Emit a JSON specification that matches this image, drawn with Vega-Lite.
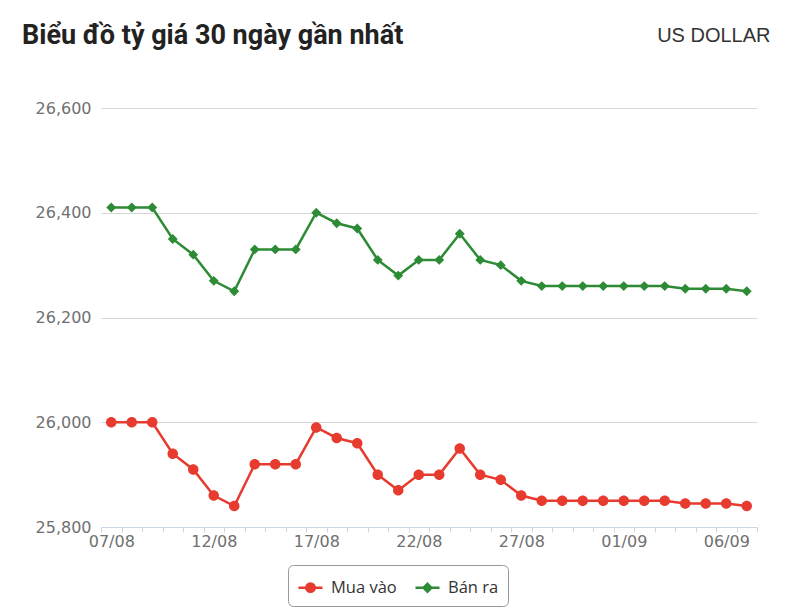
{
  "$schema": "https://vega.github.io/schema/vega-lite/v6.json",
  "width": 656,
  "height": 419,
  "autosize": {"type": "none"},
  "padding": {"left": 101, "top": 108, "right": 43, "bottom": 84},
  "background": "white",
  "title": {
    "text": "Biểu đồ tỷ giá 30 ngày gần nhất",
    "anchor": "start",
    "frame": "group",
    "orient": "top",
    "font": "Roboto",
    "fontSize": 27,
    "fontWeight": "bold",
    "color": "#222222",
    "baseline": "alphabetic",
    "dx": -79,
    "dy": 46,
    "offset": 0
  },
  "config": {
    "view": {"stroke": null},
    "legend": {
      "orient": "none",
      "direction": "horizontal",
      "legendX": 187,
      "legendY": 457,
      "strokeColor": "#999999",
      "fillColor": "white",
      "cornerRadius": 5,
      "padding": 9,
      "columnPadding": 13,
      "symbolSize": 576,
      "symbolStrokeWidth": 2.5,
      "labelFont": "Open Sans",
      "labelFontSize": 16.5,
      "labelColor": "#333333",
      "labelOffset": 7
    }
  },
  "data": {
    "values": [
      {"date": "07/08", "series": "Mua vào", "rate": 26000},
      {"date": "08/08", "series": "Mua vào", "rate": 26000},
      {"date": "09/08", "series": "Mua vào", "rate": 26000},
      {"date": "10/08", "series": "Mua vào", "rate": 25940},
      {"date": "11/08", "series": "Mua vào", "rate": 25910},
      {"date": "12/08", "series": "Mua vào", "rate": 25860},
      {"date": "13/08", "series": "Mua vào", "rate": 25840},
      {"date": "14/08", "series": "Mua vào", "rate": 25920},
      {"date": "15/08", "series": "Mua vào", "rate": 25920},
      {"date": "16/08", "series": "Mua vào", "rate": 25920},
      {"date": "17/08", "series": "Mua vào", "rate": 25990},
      {"date": "18/08", "series": "Mua vào", "rate": 25970},
      {"date": "19/08", "series": "Mua vào", "rate": 25960},
      {"date": "20/08", "series": "Mua vào", "rate": 25900},
      {"date": "21/08", "series": "Mua vào", "rate": 25870},
      {"date": "22/08", "series": "Mua vào", "rate": 25900},
      {"date": "23/08", "series": "Mua vào", "rate": 25900},
      {"date": "24/08", "series": "Mua vào", "rate": 25950},
      {"date": "25/08", "series": "Mua vào", "rate": 25900},
      {"date": "26/08", "series": "Mua vào", "rate": 25890},
      {"date": "27/08", "series": "Mua vào", "rate": 25860},
      {"date": "28/08", "series": "Mua vào", "rate": 25850},
      {"date": "29/08", "series": "Mua vào", "rate": 25850},
      {"date": "30/08", "series": "Mua vào", "rate": 25850},
      {"date": "31/08", "series": "Mua vào", "rate": 25850},
      {"date": "01/09", "series": "Mua vào", "rate": 25850},
      {"date": "02/09", "series": "Mua vào", "rate": 25850},
      {"date": "03/09", "series": "Mua vào", "rate": 25850},
      {"date": "04/09", "series": "Mua vào", "rate": 25845},
      {"date": "05/09", "series": "Mua vào", "rate": 25845},
      {"date": "06/09", "series": "Mua vào", "rate": 25845},
      {"date": "07/09", "series": "Mua vào", "rate": 25840},
      {"date": "07/08", "series": "Bán ra", "rate": 26410},
      {"date": "08/08", "series": "Bán ra", "rate": 26410},
      {"date": "09/08", "series": "Bán ra", "rate": 26410},
      {"date": "10/08", "series": "Bán ra", "rate": 26350},
      {"date": "11/08", "series": "Bán ra", "rate": 26320},
      {"date": "12/08", "series": "Bán ra", "rate": 26270},
      {"date": "13/08", "series": "Bán ra", "rate": 26250},
      {"date": "14/08", "series": "Bán ra", "rate": 26330},
      {"date": "15/08", "series": "Bán ra", "rate": 26330},
      {"date": "16/08", "series": "Bán ra", "rate": 26330},
      {"date": "17/08", "series": "Bán ra", "rate": 26400},
      {"date": "18/08", "series": "Bán ra", "rate": 26380},
      {"date": "19/08", "series": "Bán ra", "rate": 26370},
      {"date": "20/08", "series": "Bán ra", "rate": 26310},
      {"date": "21/08", "series": "Bán ra", "rate": 26280},
      {"date": "22/08", "series": "Bán ra", "rate": 26310},
      {"date": "23/08", "series": "Bán ra", "rate": 26310},
      {"date": "24/08", "series": "Bán ra", "rate": 26360},
      {"date": "25/08", "series": "Bán ra", "rate": 26310},
      {"date": "26/08", "series": "Bán ra", "rate": 26300},
      {"date": "27/08", "series": "Bán ra", "rate": 26270},
      {"date": "28/08", "series": "Bán ra", "rate": 26260},
      {"date": "29/08", "series": "Bán ra", "rate": 26260},
      {"date": "30/08", "series": "Bán ra", "rate": 26260},
      {"date": "31/08", "series": "Bán ra", "rate": 26260},
      {"date": "01/09", "series": "Bán ra", "rate": 26260},
      {"date": "02/09", "series": "Bán ra", "rate": 26260},
      {"date": "03/09", "series": "Bán ra", "rate": 26260},
      {"date": "04/09", "series": "Bán ra", "rate": 26255},
      {"date": "05/09", "series": "Bán ra", "rate": 26255},
      {"date": "06/09", "series": "Bán ra", "rate": 26255},
      {"date": "07/09", "series": "Bán ra", "rate": 26250}
    ]
  },
  "encoding": {
    "x": {
      "field": "date",
      "type": "ordinal",
      "sort": null,
      "bandPosition": 0.5,
      "scale": {"type": "band", "paddingInner": 0, "paddingOuter": 0},
      "axis": {
        "title": null,
        "labelAngle": 0,
        "labelExpr": "indexof(['07/08','12/08','17/08','22/08','27/08','01/09','06/09'], datum.value) >= 0 ? datum.label : ''",
        "labelOverlap": false,
        "labelFlush": false,
        "tickBand": "extent",
        "tickSize": 5,
        "tickColor": "#ccd6eb",
        "domainColor": "#ccd6eb",
        "labelFont": "DejaVu Sans",
        "labelFontSize": 16,
        "labelColor": "#707070",
        "labelPadding": 1,
        "grid": false
      }
    },
    "y": {
      "field": "rate",
      "type": "quantitative",
      "scale": {"domain": [25800, 26600], "nice": false, "zero": false},
      "axis": {
        "title": "US DOLLAR",
        "titleAngle": 0,
        "titleAlign": "right",
        "titleBaseline": "alphabetic",
        "titleX": 669,
        "titleY": -67,
        "titleFont": "Liberation Sans",
        "titleFontSize": 20,
        "titleFontWeight": "normal",
        "titleColor": "#333333",
        "values": [25800, 26000, 26200, 26400, 26600],
        "format": ",.0f",
        "domain": false,
        "ticks": false,
        "labelPadding": 10,
        "labelFont": "DejaVu Sans",
        "labelFontSize": 16,
        "labelColor": "#707070",
        "gridColor": "#d6d6d6",
        "gridWidth": 1
      }
    }
  },
  "layer": [
    {
      "mark": {"type": "line", "strokeWidth": 2.5},
      "encoding": {
        "color": {
          "field": "series",
          "type": "nominal",
          "scale": {"domain": ["Mua vào", "Bán ra"], "range": ["#e63b2e", "#2e8b35"]},
          "legend": {"title": null}
        }
      }
    },
    {
      "mark": {"type": "point", "filled": true, "size": 900, "opacity": 1},
      "encoding": {
        "color": {
          "field": "series",
          "type": "nominal",
          "scale": {"domain": ["Mua vào", "Bán ra"], "range": ["#e63b2e", "#2e8b35"]},
          "legend": {"title": null}
        },
        "shape": {
          "field": "series",
          "type": "nominal",
          "scale": {
            "domain": ["Mua vào", "Bán ra"],
            "range": [
              "M-1,0H1M0.35,0A0.35,0.35,0,1,1,-0.35,0A0.35,0.35,0,1,1,0.35,0Z",
              "M-1,0H1M0,-0.33L0.33,0L0,0.33L-0.33,0Z"
            ]
          },
          "legend": {"title": null}
        }
      }
    }
  ]
}
